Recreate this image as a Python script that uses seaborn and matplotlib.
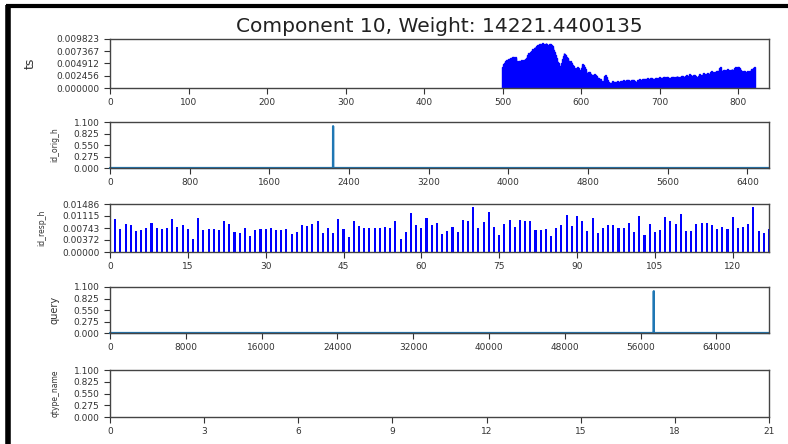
import matplotlib
matplotlib.use("Agg")
import matplotlib.pyplot as plt
from matplotlib.lines import Line2D
import seaborn as sns

title = "Component 10, Weight: 14221.4400135"
ylabels = ["ts", "id_orig_h", "id_resp_h", "query", "qtype_name"]

# ts: one value per index, starting at index 500
ts_start = 500
ts_vals = [
    0.0043, 0.0048, 0.0051, 0.0053, 0.0055, 0.0056, 0.0057, 0.0058, 0.0057, 0.0059,
    0.0060, 0.0061, 0.0062, 0.0063, 0.0062, 0.0061, 0.0063, 0.0060, 0.0055, 0.0053,
    0.0054, 0.0055, 0.0055, 0.0054, 0.0056, 0.0055, 0.0056, 0.0057, 0.0056, 0.0058,
    0.0060, 0.0063, 0.0066, 0.0070, 0.0068, 0.0072, 0.0071, 0.0075, 0.0078, 0.0076,
    0.0080, 0.0082, 0.0081, 0.0084, 0.0086, 0.0085, 0.0087, 0.0089, 0.0088, 0.0086,
    0.0088, 0.0090, 0.0089, 0.0087, 0.0088, 0.0090, 0.0089, 0.0086, 0.0084, 0.0087,
    0.0089, 0.0088, 0.0086, 0.0084, 0.0080, 0.0076, 0.0072, 0.0066, 0.0060, 0.0055,
    0.0053, 0.0050, 0.0045, 0.0042, 0.0044, 0.0050, 0.0058, 0.0065, 0.0070, 0.0069,
    0.0066, 0.0063, 0.0060, 0.0058, 0.0055, 0.0053, 0.0054, 0.0052, 0.0050, 0.0047,
    0.0044, 0.0040, 0.0038, 0.0037, 0.0040, 0.0043, 0.0041, 0.0037, 0.0035, 0.0036,
    0.0040, 0.0045, 0.0048, 0.0046, 0.0043, 0.0038, 0.0034, 0.0031, 0.0030, 0.0032,
    0.0033, 0.0031, 0.0029, 0.0027, 0.0026, 0.0025, 0.0027, 0.0028, 0.0026, 0.0024,
    0.0022, 0.0020, 0.0021, 0.0019, 0.0018, 0.0017, 0.0015, 0.0013, 0.0014, 0.0020,
    0.0024, 0.0026, 0.0022, 0.0016, 0.0013, 0.0012, 0.0011, 0.0010, 0.0011, 0.0012,
    0.0014, 0.0013, 0.0012, 0.0012, 0.0013, 0.0013, 0.0014, 0.0013, 0.0012, 0.0013,
    0.0014, 0.0015, 0.0014, 0.0015, 0.0016, 0.0015, 0.0014, 0.0015, 0.0016, 0.0017,
    0.0016, 0.0015, 0.0014, 0.0015, 0.0016, 0.0017, 0.0016, 0.0015, 0.0014, 0.0012,
    0.0013, 0.0015, 0.0016, 0.0017, 0.0018, 0.0017, 0.0016, 0.0017, 0.0018, 0.0019,
    0.0018, 0.0017, 0.0018, 0.0019, 0.0020, 0.0019, 0.0018, 0.0019, 0.0020, 0.0021,
    0.0020, 0.0019, 0.0018, 0.0019, 0.0020, 0.0021, 0.0020, 0.0019, 0.0020, 0.0021,
    0.0022, 0.0021, 0.0020, 0.0021, 0.0022, 0.0023, 0.0022, 0.0021, 0.0022, 0.0023,
    0.0022, 0.0021, 0.0020, 0.0019, 0.0021, 0.0022, 0.0023, 0.0022, 0.0021, 0.0020,
    0.0022, 0.0023, 0.0024, 0.0023, 0.0022, 0.0021, 0.0023, 0.0024, 0.0025, 0.0024,
    0.0023, 0.0022, 0.0024, 0.0025, 0.0026, 0.0024, 0.0022, 0.0025, 0.0028, 0.0027,
    0.0024, 0.0022, 0.0025, 0.0027, 0.0026, 0.0024, 0.0021, 0.0019, 0.0022, 0.0025,
    0.0027, 0.0028, 0.0026, 0.0025, 0.0027, 0.0030, 0.0031, 0.0029, 0.0027, 0.0028,
    0.0030, 0.0031, 0.0029, 0.0028, 0.0030, 0.0032, 0.0034, 0.0033, 0.0031, 0.0030,
    0.0032, 0.0033, 0.0035, 0.0034, 0.0033, 0.0035, 0.0040, 0.0042, 0.0036, 0.0034,
    0.0035, 0.0036, 0.0037, 0.0036, 0.0035, 0.0037, 0.0038, 0.0037, 0.0036, 0.0035,
    0.0036, 0.0037, 0.0038, 0.0036, 0.0037, 0.0041, 0.0043, 0.0042, 0.0040, 0.0043,
    0.0042, 0.0041, 0.0039, 0.0037, 0.0034, 0.0031, 0.0032, 0.0034, 0.0035, 0.0033,
    0.0032, 0.0033, 0.0034, 0.0033, 0.0034, 0.0035, 0.0036, 0.0038, 0.0039, 0.0041,
    0.0043, 0.0042,
]
ts_x = list(range(ts_start, ts_start + len(ts_vals)))

# id_orig_h: zero everywhere except one spike
orig_x = [0, 2239, 2240, 2241, 6617]
orig_y = [0, 0, 1, 0, 0]

# id_resp_h: one value per index 1..127
resp_vals = [
    0.0102, 0.0070, 0.0088, 0.0083, 0.0065, 0.0067, 0.0075, 0.0091, 0.0075, 0.0070,
    0.0075, 0.0102, 0.0078, 0.0083, 0.0070, 0.0039, 0.0104, 0.0067, 0.0072, 0.0070,
    0.0069, 0.0096, 0.0088, 0.0062, 0.0060, 0.0075, 0.0049, 0.0068, 0.0072, 0.0070,
    0.0075, 0.0067, 0.0068, 0.0072, 0.0057, 0.0062, 0.0084, 0.0081, 0.0086, 0.0096,
    0.0059, 0.0075, 0.0060, 0.0102, 0.0070, 0.0047, 0.0096, 0.0081, 0.0075, 0.0074,
    0.0075, 0.0075, 0.0077, 0.0075, 0.0096, 0.0039, 0.0063, 0.0120, 0.0084, 0.0075,
    0.0106, 0.0083, 0.0090, 0.0057, 0.0065, 0.0076, 0.0063, 0.0100, 0.0097, 0.0138,
    0.0074, 0.0093, 0.0123, 0.0077, 0.0054, 0.0087, 0.0099, 0.0077, 0.0099, 0.0095,
    0.0095, 0.0068, 0.0068, 0.0072, 0.0049, 0.0074, 0.0084, 0.0115, 0.0081, 0.0112,
    0.0095, 0.0066, 0.0104, 0.0060, 0.0074, 0.0083, 0.0083, 0.0074, 0.0074, 0.0089,
    0.0063, 0.0112, 0.0054, 0.0086, 0.0063, 0.0068, 0.0109, 0.0095, 0.0087, 0.0118,
    0.0066, 0.0066, 0.0086, 0.0091, 0.0091, 0.0083, 0.0072, 0.0077, 0.0072, 0.0109,
    0.0074, 0.0076, 0.0087, 0.0138, 0.0066, 0.0059, 0.0072,
]
resp_x = list(range(1, len(resp_vals) + 1))

# query: zero everywhere except one spike
query_x = [0, 57383, 57384, 57385, 69540]
query_y = [0, 0, 1, 0, 0]

# tick values / labels
ts_xticks = [0, 100, 200, 300, 400, 500, 600, 700, 800]
ts_yticks = [0.0, 0.002456, 0.004912, 0.007367, 0.009823]
ts_yticklabels = ["0.000000", "0.002456", "0.004912", "0.007367", "0.009823"]
orig_xticks = [0, 800, 1600, 2400, 3200, 4000, 4800, 5600, 6400]
resp_xticks = [0, 15, 30, 45, 60, 75, 90, 105, 120]
resp_yticks = [0.0, 0.00372, 0.00743, 0.01115, 0.01486]
resp_yticklabels = ["0.00000", "0.00372", "0.00743", "0.01115", "0.01486"]
query_xticks = [0, 8000, 16000, 24000, 32000, 40000, 48000, 56000, 64000]
qtype_xticks = [0, 3, 6, 9, 12, 15, 18, 21]
unit_yticks = [0.0, 0.275, 0.55, 0.825, 1.1]
unit_yticklabels = ["0.000", "0.275", "0.550", "0.825", "1.100"]

sns.set_style("ticks")
plt.rcParams["font.family"] = ["DejaVu Sans"]
plt.rcParams["text.color"] = "#333333"
plt.rcParams["xtick.color"] = "#333333"
plt.rcParams["ytick.color"] = "#333333"

W, H = 788, 444
fig = plt.figure(figsize=(W / 100, H / 100), dpi=100)

# axes boxes in pixels: (top, bottom)
boxes = [(39, 88), (122, 168), (204, 252), (287, 333), (370, 417)]
left_px, right_px = 110, 769
axes = []
for top, bot in boxes:
    ax = fig.add_axes([left_px / W, (H - bot) / H, (right_px - left_px) / W, (bot - top) / H])
    axes.append(ax)
ax1, ax2, ax3, ax4, ax5 = axes

line_blue = "#1f77b4"

# ts
sns.barplot(x=ts_x, y=ts_vals, ax=ax1, native_scale=True, orient="x", width=1,
            color="blue", saturation=1, errorbar=None, edgecolor="blue", linewidth=1.0)
ax1.set_xlim(0, 839)
ax1.set_ylim(0, 0.009823)
ax1.set_xticks(ts_xticks)
ax1.set_yticks(ts_yticks)
ax1.set_yticklabels(ts_yticklabels)
ax1.set_title(title, fontsize=14.5, color="#222222", pad=5)

# id_orig_h
sns.lineplot(x=orig_x, y=orig_y, ax=ax2, color=line_blue, linewidth=1.6,
             errorbar=None, clip_on=False)
ax2.set_xlim(0, 6617)
ax2.set_ylim(0, 1.1)
ax2.set_xticks(orig_xticks)

# id_resp_h
sns.barplot(x=resp_x, y=resp_vals, ax=ax3, native_scale=True, orient="x", width=0.4,
            color="blue", saturation=1, errorbar=None, linewidth=0)
ax3.set_xlim(0, 127)
ax3.set_ylim(0, 0.01486)
ax3.set_xticks(resp_xticks)
ax3.set_yticks(resp_yticks)
ax3.set_yticklabels(resp_yticklabels)

# query
sns.lineplot(x=query_x, y=query_y, ax=ax4, color=line_blue, linewidth=1.6,
             errorbar=None, clip_on=False)
ax4.set_xlim(0, 69540)
ax4.set_ylim(0, 1.1)
ax4.set_xticks(query_xticks)

# qtype_name (empty)
ax5.set_xlim(0, 21)
ax5.set_ylim(0, 1.1)
ax5.set_xticks(qtype_xticks)

for ax in (ax2, ax4, ax5):
    ax.set_yticks(unit_yticks)
    ax.set_yticklabels(unit_yticklabels)

label_sizes = [9, 5.5, 5.5, 7, 5.5]
label_x = [-0.111, -0.077, -0.096, -0.076, -0.076]
for ax, lab, fs, lx in zip(axes, ylabels, label_sizes, label_x):
    ax.set_xlabel("")
    ax.set_ylabel(lab, fontsize=fs, color="#333333")
    ax.yaxis.set_label_coords(lx, 0.5)
    ax.tick_params(labelsize=6.5, length=4, width=0.8)
    ax.set_xticklabels([str(t) for t in ax.get_xticks()])
    for s in ax.spines.values():
        s.set_color("#444444")
        s.set_linewidth(1.0)

# dark frame of the screenshot (left and top)
fig.add_artist(Line2D([7.5 / W, 7.5 / W], [0, 1 - 5 / H], color="black", linewidth=4,
                      solid_capstyle="butt"))
fig.add_artist(Line2D([5.5 / W, 1], [1 - 6.5 / H, 1 - 6.5 / H], color="black", linewidth=3,
                      solid_capstyle="butt"))

fig.savefig("out.png", dpi=100)
